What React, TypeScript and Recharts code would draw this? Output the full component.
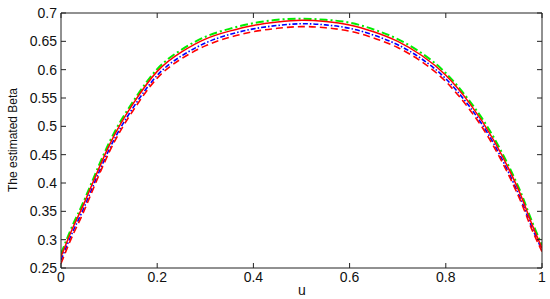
import { LineChart, Line, XAxis, YAxis } from 'recharts';

// u grid (denser near the ends where the curves are steep)
const uValues = [0, 0.025, 0.05, 0.1, 0.15, 0.2, 0.25, 0.3, 0.35, 0.4, 0.45, 0.5, 0.55, 0.6, 0.65, 0.7, 0.75, 0.8, 0.85, 0.9, 0.95, 0.975, 1];

// solid red - true beta
const trueBeta = [0.270, 0.322, 0.368, 0.466, 0.540, 0.597, 0.631, 0.654, 0.668, 0.678, 0.684, 0.687, 0.685, 0.679, 0.667, 0.650, 0.625, 0.590, 0.540, 0.475, 0.390, 0.336, 0.285];
// green dash-dot
const greenEst = [0.275, 0.327, 0.373, 0.471, 0.544, 0.601, 0.635, 0.658, 0.672, 0.682, 0.688, 0.690, 0.688, 0.683, 0.671, 0.654, 0.629, 0.594, 0.544, 0.480, 0.395, 0.341, 0.290];
// blue dotted dash
const blueEst = [0.264, 0.315, 0.361, 0.459, 0.533, 0.590, 0.624, 0.647, 0.662, 0.672, 0.678, 0.681, 0.679, 0.673, 0.661, 0.644, 0.619, 0.584, 0.534, 0.469, 0.383, 0.330, 0.282];
// red dashed
const redDashedEst = [0.258, 0.309, 0.355, 0.454, 0.528, 0.585, 0.619, 0.642, 0.657, 0.667, 0.673, 0.676, 0.674, 0.668, 0.656, 0.639, 0.614, 0.579, 0.529, 0.464, 0.379, 0.326, 0.279];

const xTicks = [0, 0.2, 0.4, 0.6, 0.8, 1];
const yTicks = [0.25, 0.3, 0.35, 0.4, 0.45, 0.5, 0.55, 0.6, 0.65, 0.7];

const data = uValues.map((u, i) => ({
  u,
  trueBeta: trueBeta[i],
  green: greenEst[i],
  blue: blueEst[i],
  redDashed: redDashedEst[i],
}));

const FONT = '"Liberation Sans", Arial, sans-serif';
const AXIS = '#222';
const tickStyle = { fontSize: 14, fontFamily: FONT, fill: '#111' };

export default function App() {
  return (
    <div style={{ position: 'fixed', left: 0, top: 0, width: 550, height: 299, background: '#fff' }}>
      <LineChart width={550} height={299} data={data} margin={{ top: 0, right: 0, bottom: 0, left: 0 }}>
        <XAxis
          xAxisId="bottom"
          dataKey="u"
          type="number"
          domain={[0, 1]}
          ticks={xTicks}
          height={31}
          tickSize={-5}
          tickMargin={9}
          stroke={AXIS}
          tick={tickStyle}
          allowDataOverflow
        />
        <XAxis
          xAxisId="top"
          orientation="top"
          dataKey="u"
          type="number"
          domain={[0, 1]}
          ticks={xTicks}
          height={13}
          tickSize={-5}
          tickFormatter={() => ''}
          stroke={AXIS}
          allowDataOverflow
        />
        <YAxis
          yAxisId="left"
          type="number"
          domain={[0.25, 0.7]}
          ticks={yTicks}
          width={61}
          tickSize={-5}
          tickMargin={9}
          stroke={AXIS}
          tick={tickStyle}
          allowDataOverflow
        />
        <YAxis
          yAxisId="right"
          orientation="right"
          type="number"
          domain={[0.25, 0.7]}
          ticks={yTicks}
          width={8}
          tickSize={-5}
          tickFormatter={() => ''}
          stroke={AXIS}
          allowDataOverflow
        />
        <Line xAxisId="bottom" yAxisId="left" type="natural" dataKey="green" stroke="#00ee00" strokeWidth={2} strokeDasharray="8 3 2 3" dot={false} isAnimationActive={false} />
        <Line xAxisId="bottom" yAxisId="left" type="natural" dataKey="blue" stroke="#0000ff" strokeWidth={1.6} strokeDasharray="5 2 1.5 2" dot={false} isAnimationActive={false} />
        <Line xAxisId="bottom" yAxisId="left" type="natural" dataKey="redDashed" stroke="#ff0000" strokeWidth={1.6} strokeDasharray="7 4" dot={false} isAnimationActive={false} />
        <Line xAxisId="bottom" yAxisId="left" type="natural" dataKey="trueBeta" stroke="#ff0000" strokeWidth={1.5} dot={false} isAnimationActive={false} />
        <text x={302} y={295} textAnchor="middle" style={{ fontSize: 14, fontFamily: FONT, fill: '#111' }}>u</text>
        <text
          x={17}
          y={140}
          textAnchor="middle"
          transform="rotate(-90 17 140)"
          style={{ fontSize: 12, fontFamily: '"Liberation Sans Narrow", "Liberation Sans", Arial, sans-serif', fill: '#111' }}
        >
          The estimated Beta
        </text>
      </LineChart>
    </div>
  );
}
